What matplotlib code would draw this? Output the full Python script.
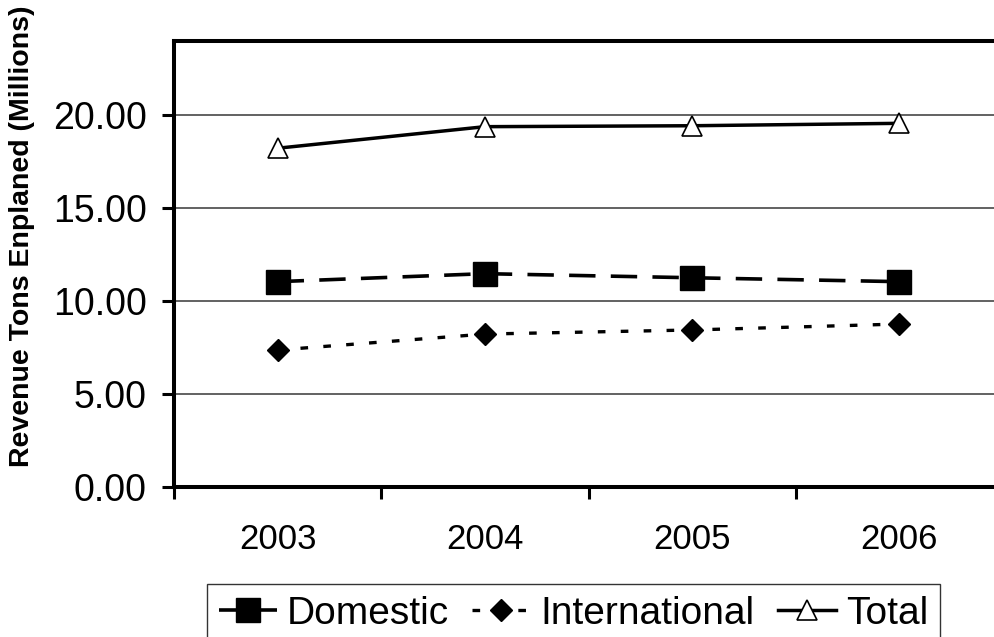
import matplotlib
matplotlib.use("Agg")
from matplotlib import pyplot as plt
from matplotlib.ticker import FixedLocator, NullFormatter, FuncFormatter

years = ["2003", "2004", "2005", "2006"]
domestic = [11.05, 11.48, 11.26, 11.05]
international = [7.37, 8.23, 8.45, 8.77]
total = [18.23, 19.39, 19.44, 19.57]
y_ticks = [0, 5, 10, 15, 20]

plt.rcParams['font.family'] = ['Liberation Sans', 'DejaVu Sans']
plt.rcParams['lines.scale_dashes'] = False

fig = plt.figure(figsize=(9.94, 6.37), dpi=100)
ax = fig.add_axes([174 / 994, 1 - 487 / 637, 829 / 994, 446 / 637])

x = list(range(len(years)))

# gridlines first so the series sit on top
ax.set_ylim(0, 24)
ax.set_xlim(-0.5, len(years) - 0.5)
ax.set_yticks(y_ticks)
ax.yaxis.grid(True, color='#555555', linewidth=1.3)
ax.set_axisbelow(True)

l_dom, = ax.plot(x, domestic, color='black', linewidth=2.6, dashes=(19, 11),
                 marker='s', markersize=17, markerfacecolor='black',
                 markeredgecolor='black', label='Domestic', zorder=3)
l_int, = ax.plot(x, international, color='black', linewidth=2.4, dashes=(5.5, 11),
                 marker='D', markersize=11, markerfacecolor='black',
                 markeredgecolor='black', label='International', zorder=3)
l_tot, = ax.plot(x, total, color='black', linewidth=2.5, linestyle='-',
                 marker='^', markersize=15, markerfacecolor='white',
                 markeredgecolor='black', markeredgewidth=1.2,
                 label='Total', zorder=3)

# spines: left, bottom, top; right one runs off the picture
for side in ['left', 'bottom', 'top']:
    ax.spines[side].set_linewidth(2.9)
ax.spines['right'].set_visible(False)

ax.yaxis.set_major_formatter(FuncFormatter(lambda v, p: f"{v:.2f}"))
ax.tick_params(axis='y', direction='out', length=8.5, width=2.2, pad=11,
               labelsize=27)

# year labels at category centres, tick marks at the boundaries
ax.set_xticks(x)
ax.set_xticklabels(years)
ax.tick_params(axis='x', which='major', length=0, pad=26, labelsize=25)
ax.xaxis.set_minor_locator(FixedLocator([i - 0.5 for i in range(len(years) + 1)]))
ax.xaxis.set_minor_formatter(NullFormatter())
ax.tick_params(axis='x', which='minor', direction='out', length=8.5, width=2.2)

fig.text(22 / 994, 1 - 236 / 637, 'Revenue Tons Enplaned (Millions)',
         rotation=90, ha='center', va='center', fontsize=20.5, fontweight='bold')

leg = fig.legend(handles=[l_dom, l_int, l_tot], loc='upper left',
                 bbox_to_anchor=(207 / 994, 1 - 584 / 637), ncol=3,
                 fontsize=28, frameon=True, fancybox=False, shadow=False,
                 handlelength=1.5, handletextpad=0.25, columnspacing=0.6,
                 borderpad=0.3, borderaxespad=0)
leg.get_frame().set_edgecolor('black')
leg.get_frame().set_linewidth(1.0)

fig.savefig('out.png', dpi=100)
